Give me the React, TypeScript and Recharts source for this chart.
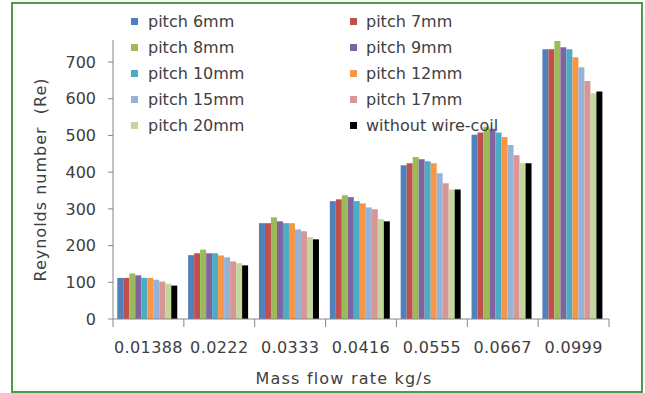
import { BarChart, Bar, XAxis, YAxis, Label } from 'recharts';

document.body.style.margin = '0';

const flowRates = ['0.01388', '0.0222', '0.0333', '0.0416', '0.0555', '0.0667', '0.0999'];

// Reynolds number per mass flow rate, one list per coil pitch
const pitch6 = [112, 174, 261, 321, 419, 502, 735];
const pitch7 = [112, 179, 261, 326, 424, 508, 735];
const pitch8 = [124, 189, 277, 337, 441, 524, 757];
const pitch9 = [119, 179, 266, 332, 435, 518, 740];
const pitch10 = [112, 179, 261, 321, 430, 508, 735];
const pitch12 = [112, 173, 261, 315, 424, 496, 713];
const pitch15 = [107, 168, 244, 304, 397, 474, 686];
const pitch17 = [102, 157, 239, 299, 370, 446, 648];
const pitch20 = [96, 152, 223, 272, 353, 424, 615];
const withoutCoil = [91, 146, 217, 266, 353, 424, 620];

const yTicks = [0, 100, 200, 300, 400, 500, 600, 700];

const SERIES = [
  { key: 'p6', name: 'pitch 6mm', color: '#4F81BD', values: pitch6 },
  { key: 'p7', name: 'pitch 7mm', color: '#C0504D', values: pitch7 },
  { key: 'p8', name: 'pitch 8mm', color: '#9BBB59', values: pitch8 },
  { key: 'p9', name: 'pitch 9mm', color: '#8064A2', values: pitch9 },
  { key: 'p10', name: 'pitch 10mm', color: '#4BACC6', values: pitch10 },
  { key: 'p12', name: 'pitch 12mm', color: '#F79646', values: pitch12 },
  { key: 'p15', name: 'pitch 15mm', color: '#95B3D7', values: pitch15 },
  { key: 'p17', name: 'pitch 17mm', color: '#D99694', values: pitch17 },
  { key: 'p20', name: 'pitch 20mm', color: '#C3D69B', values: pitch20 },
  { key: 'none', name: 'without wire-coil', color: '#000000', values: withoutCoil },
];

const rows = flowRates.map((rate, i) => {
  const row: Record<string, string | number> = { rate };
  SERIES.forEach((s) => {
    row[s.key] = s.values[i];
  });
  return row;
});

const W = 645;
const H = 393;
const MARGIN = { top: 40, right: 36, bottom: 34, left: 53 };
const Y_AXIS_W = 60;
const X_AXIS_H = 40;
const HALF_BAND = (W - MARGIN.left - MARGIN.right - Y_AXIS_W) / flowRates.length / 2;

const AXIS = '#868686';
const TEXT = '#404040';
const FONT = '"DejaVu Sans", sans-serif';

// category labels with tick marks on the band boundaries
function RateTick(props: any) {
  const { x, y, payload, index } = props;
  const last = index === flowRates.length - 1;
  return (
    <g>
      <line x1={x - HALF_BAND} y1={y} x2={x - HALF_BAND} y2={y + 8} stroke={AXIS} />
      {last && <line x1={x + HALF_BAND} y1={y} x2={x + HALF_BAND} y2={y + 8} stroke={AXIS} />}
      <text
        x={x}
        y={y + 28}
        textAnchor="middle"
        dominantBaseline="central"
        fill={TEXT}
        fontSize={16}
        letterSpacing={0.4}
      >
        {payload.value}
      </text>
    </g>
  );
}

function LegendBlock() {
  return (
    <>
      {SERIES.map((s, i) => {
        const col = i % 2;
        const row = Math.floor(i / 2);
        return (
          <div
            key={s.key}
            style={{
              position: 'absolute',
              left: col === 0 ? 131 : 350,
              top: 21 + row * 26 - 10,
              height: 20,
              display: 'flex',
              alignItems: 'center',
              whiteSpace: 'nowrap',
              color: TEXT,
              fontSize: 16,
              fontFamily: FONT,
            }}
          >
            <span style={{ width: 7, height: 7, background: s.color, marginRight: col === 0 ? 10 : 9 }} />
            <span>{s.name}</span>
          </div>
        );
      })}
    </>
  );
}

export default function App() {
  return (
    <div style={{ position: 'relative', width: W, height: H, background: '#fff', fontFamily: FONT }}>
      <div
        style={{
          position: 'absolute',
          left: 11,
          top: 2,
          width: 628,
          height: 387,
          border: '2px solid #4E9A47',
        }}
      />
      <BarChart
        width={W}
        height={H}
        data={rows}
        margin={MARGIN}
        barCategoryGap="6%"
        barGap={0}
        style={{ position: 'absolute', left: 0, top: 0 }}
      >
        <XAxis
          dataKey="rate"
          height={X_AXIS_H}
          tickSize={0}
          tickMargin={0}
          tickLine={false}
          axisLine={{ stroke: AXIS }}
          tick={<RateTick />}
          interval={0}
        >
          <Label
            value="Mass flow rate kg/s"
            position="center"
            dx={-17}
            dy={39}
            fill={TEXT}
            fontSize={16}
            letterSpacing={1.2}
          />
        </XAxis>
        <YAxis
          width={Y_AXIS_W}
          domain={[0, 760]}
          ticks={yTicks}
          tickSize={5}
          tickMargin={12}
          tickLine={{ stroke: AXIS }}
          axisLine={{ stroke: AXIS }}
          tick={{ fill: TEXT, fontSize: 16 }}
          allowDataOverflow
        >
          <Label
            value={'Reynolds number\u00A0 (Re)'}
            angle={-90}
            position="center"
            dx={-43}
            fill={TEXT}
            fontSize={16}
            letterSpacing={1}
          />
        </YAxis>
        {SERIES.map((s) => (
          <Bar key={s.key} dataKey={s.key} name={s.name} fill={s.color} isAnimationActive={false} />
        ))}
      </BarChart>
      <LegendBlock />
    </div>
  );
}
